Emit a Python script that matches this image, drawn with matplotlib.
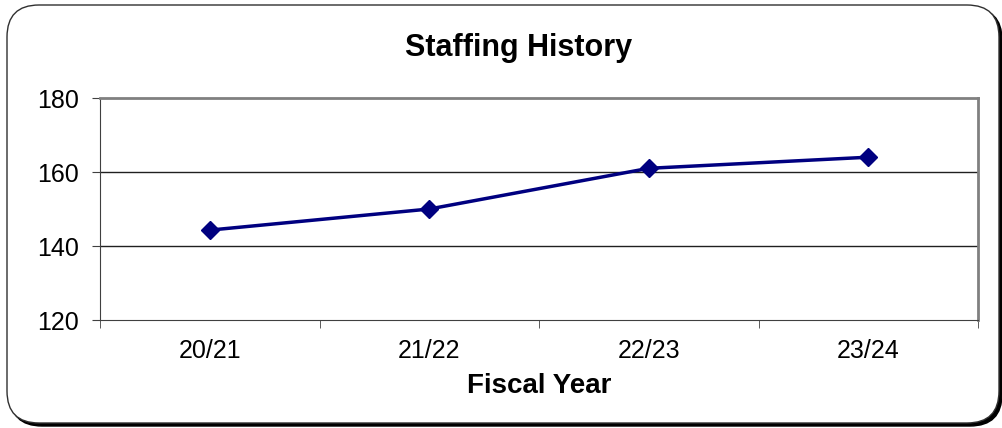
import matplotlib.pyplot as plt
import matplotlib.patches as mpatches

years = ['20/21', '21/22', '22/23', '23/24']
staff = [144.3, 150, 161, 164]
yticks = [120, 140, 160, 180]

plt.rcParams['font.family'] = ['Liberation Sans', 'DejaVu Sans']

fig = plt.figure(figsize=(10.03, 4.28), dpi=100)

# rounded frame with a drop shadow (pixel coords)
shadow = mpatches.FancyBboxPatch((10, 2), 992, 418, boxstyle='round,pad=0,rounding_size=32',
                                 transform=None, fc='black', ec='black', lw=1, zorder=0)
frame = mpatches.FancyBboxPatch((7, 5), 992, 418, boxstyle='round,pad=0,rounding_size=32',
                                transform=None, fc='white', ec='#303030', lw=1, zorder=1)
fig.patches.extend([shadow, frame])

ax = fig.add_axes([0.0997, 0.2523, 0.8754, 0.5187])
ax.set_zorder(2)
ax.patch.set_alpha(0)

x = range(len(years))
ax.plot(x, staff, color='#000080', lw=2.5, marker='D', ms=9, zorder=3)

ax.set_xlim(-0.5, len(years) - 0.5)
ax.set_ylim(120, 180)
ax.set_yticks(yticks)
ax.set_xticks(list(x))
ax.set_xticklabels(years)
ax.set_xticks([i - 0.5 for i in range(len(years) + 1)], minor=True)
ax.tick_params(axis='x', which='major', length=0, labelsize=18, pad=14)
ax.tick_params(axis='x', which='minor', length=6, direction='out', color='#404040')
ax.tick_params(axis='y', length=6, direction='out', labelsize=18, pad=9, color='#404040')

for v in yticks[1:3]:
    ax.axhline(v, color='#202020', lw=1, zorder=1)

ax.spines['left'].set_color('#404040')
ax.spines['bottom'].set_color('#404040')
ax.spines['top'].set_color('#808080')
ax.spines['right'].set_color('#808080')
ax.spines['top'].set_linewidth(2)
ax.spines['right'].set_linewidth(2)

fig.text(0.517, 0.888, 'Staffing History', ha='center', va='center', fontsize=22, fontweight='bold')
ax.set_xlabel('Fiscal Year', fontsize=20, fontweight='bold', labelpad=7)

fig.savefig('out.png', dpi=100)
